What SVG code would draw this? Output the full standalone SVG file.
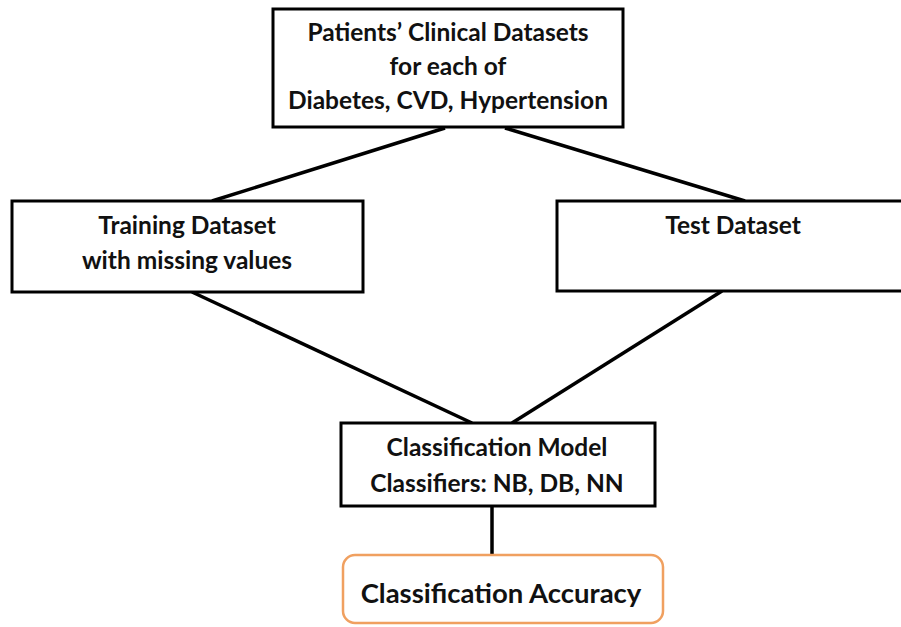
<svg xmlns="http://www.w3.org/2000/svg" width="901" height="627" viewBox="0 0 901 627">
<style>
.box{fill:#fff;stroke:#000;stroke-width:3}
.acc{fill:#fff;stroke:#f0a060;stroke-width:2.5}
.t{font-family:Lato,"Liberation Sans",sans-serif;font-weight:bold;font-size:24.5px;fill:#111;text-anchor:middle}
.big{font-size:27.5px}
.ln{stroke:#000;stroke-width:3.5;fill:none}
</style>
<rect width="901" height="627" fill="#fff"/>
<g id="connectors">
<line class="ln" x1="445" y1="128" x2="212" y2="201"/>
<line class="ln" x1="505" y1="128" x2="745" y2="201"/>
<line class="ln" x1="192" y1="292" x2="472" y2="423"/>
<line class="ln" x1="722" y1="291" x2="512" y2="423"/>
<line class="ln" x1="492" y1="506" x2="492" y2="555"/>
</g>
<g id="n_clinical">
<rect class="box" x="273" y="9" width="350" height="118"/>
<text class="t" x="448" y="41">Patients’ Clinical Datasets</text>
<text class="t" x="448" y="75">for each of</text>
<text class="t" x="448" y="109">Diabetes, CVD, Hypertension</text>
</g>
<g id="n_training">
<rect class="box" x="12" y="201" width="351" height="91"/>
<text class="t" x="187" y="234">Training Dataset</text>
<text class="t" x="187" y="269">with missing values</text>
</g>
<g id="n_test">
<rect class="box" x="557" y="201" width="350" height="90"/>
<text class="t" x="733" y="234">Test Dataset</text>
</g>
<g id="n_model">
<rect class="box" x="341" y="423" width="314" height="83"/>
<text class="t" x="497" y="456">Classification Model</text>
<text class="t" x="497" y="492">Classifiers: NB, DB, NN</text>
</g>
<g id="n_accuracy">
<rect class="acc" x="343" y="555" width="320" height="68" rx="12"/>
<text class="t big" x="501" y="603">Classification Accuracy</text>
</g>
</svg>
